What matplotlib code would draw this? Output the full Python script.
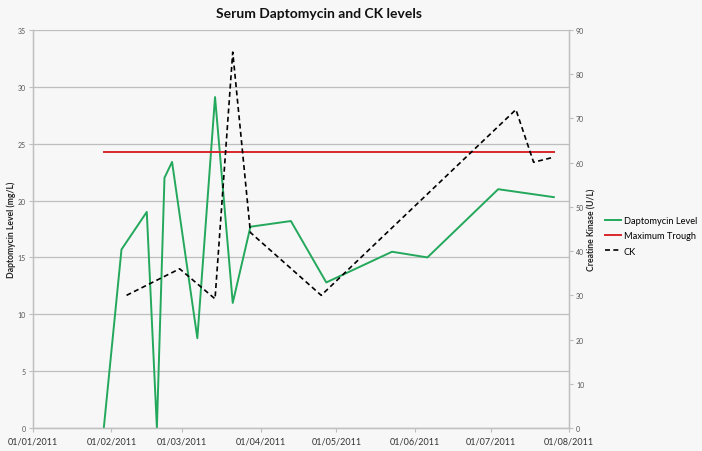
import matplotlib
matplotlib.use("Agg")
import matplotlib.pyplot as plt
import matplotlib.dates as mdates
import pandas as pd

plt.rcParams['font.family'] = ['Lato', 'DejaVu Sans']

dapto_dates = ["2011-01-29", "2011-02-05", "2011-02-15", "2011-02-19", "2011-02-22",
               "2011-02-25", "2011-03-07", "2011-03-14", "2011-03-21", "2011-03-28",
               "2011-04-13", "2011-04-27", "2011-05-23", "2011-06-06", "2011-07-04",
               "2011-07-26"]
dapto_values = [0, 15.7, 19.0, 0, 22.0, 23.4, 7.9, 29.1, 11.0, 17.7,
                18.2, 12.8, 15.5, 15.0, 21.0, 20.3]

trough_dates = ["2011-01-29", "2011-07-26"]
trough_values = [24.3, 24.3]

ck_dates = ["2011-02-07", "2011-02-28", "2011-03-14", "2011-03-21", "2011-03-28",
            "2011-04-25", "2011-07-11", "2011-07-18", "2011-07-25"]
ck_values = [30, 36, 29.2, 85, 44.2, 30, 72, 60.1, 61.1]

tick_dates = ["2011-01-01", "2011-02-01", "2011-03-01", "2011-04-01",
              "2011-05-01", "2011-06-01", "2011-07-01", "2011-08-01"]

bg = '#f7f7f7'
fig = plt.figure(figsize=(7.02, 4.52), dpi=100, facecolor=bg)
ax = fig.add_axes([33/702, 23/452, (569-33)/702, (429-31)/452], facecolor=bg)
ax2 = ax.twinx()

l1, = ax.plot(pd.to_datetime(dapto_dates), dapto_values, color='#23a85c', lw=1.4,
              label='Daptomycin Level')
l2, = ax.plot(pd.to_datetime(trough_dates), trough_values, color='#d9262b', lw=1.4,
              label='Maximum Trough')
l3, = ax2.plot(pd.to_datetime(ck_dates), ck_values, color='black', lw=1.2,
               ls=(0, (3, 2)), label='CK')

ax.set_xlim(pd.Timestamp("2011-01-01"), pd.Timestamp("2011-08-01"))
ax.set_ylim(0, 35)
ax2.set_ylim(0, 90)
ax.set_yticks(range(0, 36, 5))
ax2.set_yticks(range(0, 91, 10))
ax.set_xticks(pd.to_datetime(tick_dates))
ax.xaxis.set_major_formatter(mdates.DateFormatter('%d/%m/%Y'))

ax.grid(axis='y', color='#bebebe', lw=0.9)
ax.set_axisbelow(True)

for a in (ax, ax2):
    for s in a.spines.values():
        s.set_color('#bfbfbf')
        s.set_linewidth(0.9)
    a.spines['top'].set_visible(False)

ax.tick_params(axis='y', labelsize=5, colors='#bfbfbf', labelcolor='#555555', length=3, pad=2)
ax2.tick_params(axis='y', labelsize=5, colors='#bfbfbf', labelcolor='#555555', length=3, pad=2)
ax.tick_params(axis='x', labelsize=6.5, colors='#bfbfbf', labelcolor='#333333', length=3, pad=3)

ax.set_ylabel('Daptomycin Level (mg/L)', fontsize=6.2, fontweight='bold', color='#222222', labelpad=1)
ax2.set_ylabel('Creatine Kinase (U/L)', fontsize=6.2, fontweight='bold', color='#222222', labelpad=2)

fig.text(319/702, 1 - 14/452, 'Serum Daptomycin and CK levels', fontsize=10,
         fontweight='bold', ha='center', va='center', color='#111111')

fig.legend(handles=[l1, l2, l3], loc='center left', bbox_to_anchor=(605/702, 1 - 237/452),
           frameon=False, fontsize=6.7, handlelength=1.7, handletextpad=0.3,
           labelspacing=0.65, borderaxespad=0, borderpad=0)

fig.savefig('out.png', dpi=100, facecolor=bg)
